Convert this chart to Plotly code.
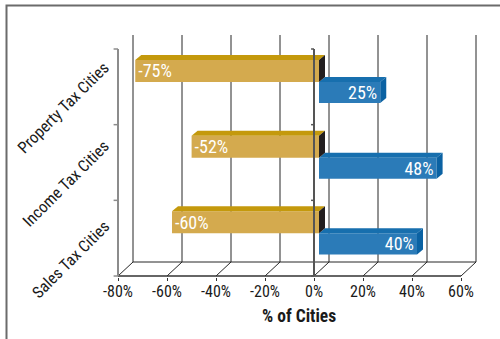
import plotly.graph_objects as go

# ---- data ----
categories = ["Property Tax Cities", "Income Tax Cities", "Sales Tax Cities"]
negative_values = [-75, -52, -60]   # gold series
positive_values = [25, 48, 40]      # blue series
tick_values = [-80, -60, -40, -20, 0, 20, 40, 60]
tick_labels = ["-80%", "-60%", "-40%", "-20%", "0%", "20%", "40%", "60%"]
x_title = "% of Cities"

# ---- style / geometry ----
FONT = "Roboto Condensed, Liberation Sans Narrow, Arial Narrow, sans-serif"
GOLD_FRONT, GOLD_TOP, GOLD_SIDE = "#D4AA4E", "#C4990C", "#221E1F"
BLUE_FRONT, BLUE_TOP, BLUE_SIDE = "#2B7BB8", "#176FAE", "#0B62A3"
GRID = "#262626"

W, H = 500, 339
L, R, T, B = 113, 23, 34, 62
PX_X = 2.45           # pixels per percent
PX_Y = 75.67          # pixels per category band
x0 = -80 - 5 / PX_X
x1 = x0 + (W - L - R) / PX_X
y1 = 2.5 + 15 / PX_Y
y0 = y1 - (H - T - B) / PX_Y

WALL_DX, WALL_DY = 15 / PX_X, 14 / PX_Y      # back wall depth
BAR_D = 5 / PX_X                             # bar front face shift
BAR_DX, BAR_DY = 6 / PX_X, 5 / PX_Y          # bar depth
n = len(categories)
ypos = [n - 1 - i for i in range(n)]         # Property on top

G_OFF, G_W = 0.064, 0.291
B_OFF, B_W = -0.215, 0.279

fig = go.Figure()

fig.add_trace(go.Bar(
    orientation="h", y=ypos, x=positive_values, base=BAR_D,
    offset=B_OFF, width=B_W, marker=dict(color=BLUE_FRONT, line=dict(width=0)),
    text=[f"{v}%" for v in positive_values], textposition="inside",
    insidetextanchor="end", textangle=0, constraintext="none",
    textfont=dict(family=FONT, size=18, color="white"), hoverinfo="skip"))
fig.add_trace(go.Bar(
    orientation="h", y=ypos, x=negative_values, base=BAR_D,
    offset=G_OFF, width=G_W, marker=dict(color=GOLD_FRONT, line=dict(width=0)),
    text=[f"{v}%" for v in negative_values], textposition="inside",
    insidetextanchor="end", textangle=0, constraintext="none",
    textfont=dict(family=FONT, size=18, color="white"), hoverinfo="skip"))

shapes = []

def line(xa, ya, xb, yb, color=GRID, width=1, layer="below"):
    shapes.append(dict(type="line", xref="x", yref="y", x0=xa, y0=ya, x1=xb, y1=yb,
                       line=dict(color=color, width=width), layer=layer))

# back wall gridlines + floor
for v in tick_values:
    line(v + WALL_DX, -0.5 + WALL_DY, v + WALL_DX, 2.5 + WALL_DY)
    line(v, -0.5, v + WALL_DX, -0.5 + WALL_DY)
line(tick_values[0] + WALL_DX, -0.5 + WALL_DY, tick_values[-1] + WALL_DX, -0.5 + WALL_DY)
line(tick_values[0], -0.5, tick_values[-1], -0.5, color="#333333", width=1.5)

# 3D faces of bars
def poly(pts, color):
    p = "M " + " L ".join(f"{a},{b}" for a, b in pts) + " Z"
    shapes.append(dict(type="path", xref="x", yref="y", path=p,
                       fillcolor=color, line=dict(width=0), layer="above"))

def faces(values, off, w, top_c, side_c):
    for yc, v in zip(ypos, values):
        xa, xb = BAR_D + min(v, 0), BAR_D + max(v, 0)
        yb, yt = yc + off, yc + off + w
        poly([(xa, yt), (xb, yt), (xb + BAR_DX, yt + BAR_DY), (xa + BAR_DX, yt + BAR_DY)], top_c)
        poly([(xb, yb), (xb, yt), (xb + BAR_DX, yt + BAR_DY), (xb + BAR_DX, yb + BAR_DY)], side_c)

faces(positive_values, B_OFF, B_W, BLUE_TOP, BLUE_SIDE)
faces(negative_values, G_OFF, G_W, GOLD_TOP, GOLD_SIDE)

# category axis (left) and zero line
line(tick_values[0], -0.5, tick_values[0], 2.5, color="#8c8c8c", width=2, layer="above")
line(0, -0.5, 0, 2.5, color="#555555", width=2, layer="above")
for b in [k - 0.5 for k in range(n + 1)]:
    line(tick_values[0], b, tick_values[0] - 1.8, b, color="#8c8c8c", width=1.5, layer="above")
    line(0, b, -1.2, b, color="#555555", width=1.5, layer="above")

# outer frame
def px2paper_x(px):
    return (px - L) / (W - L - R)

def px2paper_y(py):
    return (H - B - py) / (H - T - B)

shapes.append(dict(type="rect", xref="paper", yref="paper",
                   x0=px2paper_x(6.5), x1=px2paper_x(520), y0=px2paper_y(360), y1=px2paper_y(5.5),
                   line=dict(color="#6b6b6b", width=2), fillcolor="rgba(0,0,0,0)", layer="below"))

annotations = []
for yc, name in zip(ypos, categories):
    annotations.append(dict(text=name, xref="paper", yref="y", x=0.0, y=yc,
                            xanchor="right", yanchor="middle", xshift=3, yshift=-21,
                            textangle=-45, showarrow=False,
                            font=dict(family=FONT, size=16.3, color="#1a1a1a")))
annotations.append(dict(text=x_title, xref="paper", yref="paper",
                        x=px2paper_x(299), y=px2paper_y(316), xanchor="center", yanchor="middle",
                        showarrow=False,
                        font=dict(family=FONT, size=17.5, color="#1a1a1a", weight="bold")))

fig.update_layout(
    width=W, height=H, margin=dict(l=L, r=R, t=T, b=B, pad=0),
    paper_bgcolor="white", plot_bgcolor="white",
    barmode="overlay", showlegend=False, hovermode=False,
    shapes=shapes, annotations=annotations,
    xaxis=dict(range=[x0, x1], tickvals=tick_values, ticktext=tick_labels,
               showgrid=False, zeroline=False, showline=False,
               ticks="outside", ticklen=3, tickcolor="#333333", ticklabelstandoff=-3,
               tickfont=dict(family=FONT, size=16, color="#1a1a1a")),
    yaxis=dict(range=[y0, y1], showticklabels=False, showgrid=False,
               zeroline=False, showline=False, ticks=""),
)

fig.write_html("out.html")
